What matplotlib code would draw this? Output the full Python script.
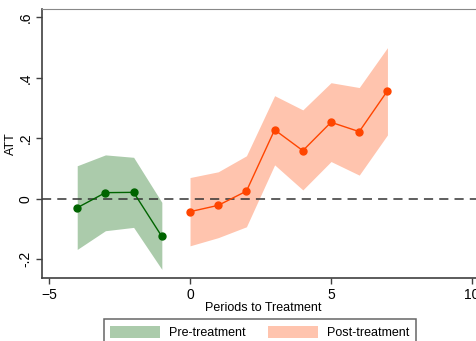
import numpy as np
import matplotlib
matplotlib.use('Agg')
import matplotlib.pyplot as plt
from matplotlib.patches import Patch

plt.rcParams['font.family'] = ['Liberation Sans', 'DejaVu Sans']

# pre-treatment periods
pre_x = [-4, -3, -2, -1]
pre_att = [-0.030, 0.020, 0.021, -0.125]
pre_lo = [-0.168, -0.106, -0.095, -0.234]
pre_hi = [0.109, 0.145, 0.137, -0.012]

# post-treatment periods
post_x = [0, 1, 2, 3, 4, 5, 6, 7]
post_att = [-0.043, -0.022, 0.025, 0.228, 0.159, 0.253, 0.222, 0.357]
post_lo = [-0.156, -0.129, -0.093, 0.112, 0.029, 0.123, 0.078, 0.211]
post_hi = [0.070, 0.089, 0.142, 0.341, 0.294, 0.384, 0.368, 0.500]

xticks = [-5, 0, 5, 10]
yticks = [-0.2, 0, 0.2, 0.4, 0.6]
ylabels = ['-.2', '0', '.2', '.4', '.6']

green_fill = '#abcbab'
green_line = '#006400'
red_fill = '#ffc4ae'
red_line = '#ff4500'
spine_col = '#404040'

fig = plt.figure(figsize=(4.77, 3.41), dpi=100)
ax = fig.add_axes([0.0874, 0.1856, 0.93, 0.788])

ax.fill_between(pre_x, pre_lo, pre_hi, color=green_fill, lw=0)
ax.fill_between(post_x, post_lo, post_hi, color=red_fill, lw=0)
ax.axhline(0, color='#333333', lw=1.1, dashes=(6, 4), zorder=2)
ax.plot(pre_x, pre_att, color=green_line, lw=1.0, marker='o', ms=5, zorder=3)
ax.plot(post_x, post_att, color=red_line, lw=1.0, marker='o', ms=5, zorder=3)

ax.set_xlim(-5.26, 10.47)
ax.set_ylim(-0.2616, 0.628)
ax.set_xticks(xticks)
ax.set_yticks(yticks)
ax.set_yticklabels(ylabels, rotation=90, va='center', ha='center')
ax.tick_params(axis='both', labelsize=10, length=4.5, width=1, color=spine_col, pad=3)
ax.tick_params(axis='y', pad=7)

ax.spines['right'].set_visible(False)
ax.spines['top'].set_color('#888888')
ax.spines['left'].set_color(spine_col)
ax.spines['bottom'].set_color(spine_col)
for s in ['left', 'bottom']:
    ax.spines[s].set_linewidth(1.2)

ax.set_xlabel('Periods to Treatment', fontsize=9, labelpad=0)
ax.set_ylabel('ATT', fontsize=9)
ax.yaxis.set_label_coords(-0.056, 0.5)

handles = [Patch(facecolor=green_fill, edgecolor='none', label='Pre-treatment'),
           Patch(facecolor=red_fill, edgecolor='none', label='Post-treatment')]
leg = fig.legend(handles=handles, loc='upper center', ncol=2,
                 bbox_to_anchor=(260 / 477, 1 - 319.3 / 341), bbox_transform=fig.transFigure,
                 fontsize=9, frameon=True, fancybox=False, edgecolor=spine_col,
                 handlelength=4.0, handleheight=1.2, handletextpad=0.7,
                 columnspacing=1.8, borderpad=0.5, borderaxespad=0)
leg.get_frame().set_linewidth(1.1)

plt.savefig('out.png', dpi=100)
plt.close()
